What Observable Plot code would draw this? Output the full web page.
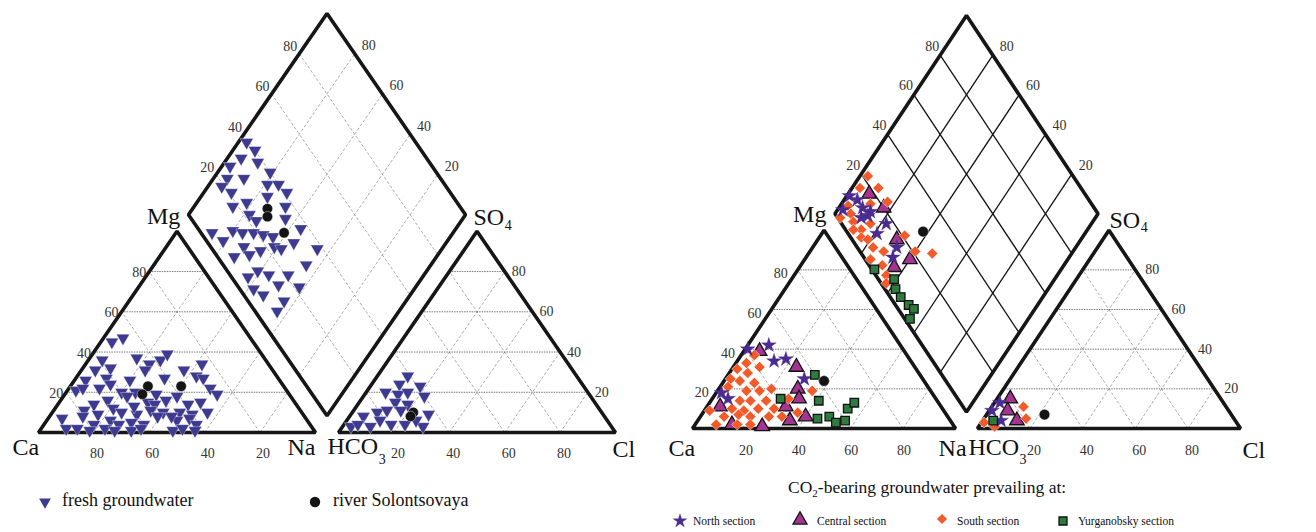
<!DOCTYPE html>
<html><head><meta charset="utf-8">
<script src="https://cdn.jsdelivr.net/npm/d3@7"></script>
<script src="https://cdn.jsdelivr.net/npm/@observablehq/plot@0.6"></script>
<style>
html,body{margin:0;padding:0;background:#fff;}
#wrap{position:relative;width:1316px;height:532px;overflow:hidden;background:#fff;}
#left,#right{position:absolute;top:0;width:658px;height:470px;}
#left{left:0}#right{left:658px}
#legend{position:absolute;left:0;top:0;}
</style></head><body>
<div id="wrap"><div id="left"></div><div id="right"></div><svg id="legend" width="1316" height="532"></svg></div>
<script>
// ---------- data (percent of meq) ----------
const ticks = [20, 40, 60, 80];
// cations: [Mg, Na+K]   anions: [SO4, Cl]   diamond: [Na+K, SO4+Cl]
const freshCations = [
 [45,4],[47,7],[36,5],[37,17],[34,23],[36,26],[39,27],[32,10],[34,42],
 [31,5],[31,23],[31,37],[28,43],[26,4],[27,11],[26,20],[27,32],[27,46],
 [21,3],[22,5],[22,11],[20,20],[20,25],[19,33],[18,41],[22,51],[19,55],
 [14,13],[16,17],[18,23],[15,32],[14,35],[14,47],[15,51],
 [11,11],[9,17],[12,21],[10,25],[9,31],[11,35],[10,40],[10,46],[9,51],[10,56],
 [7,5],[8,12],[4,18],[6,23],[4,27],[5,31],[4,36],[8,39],[6,47],[7,51],[4,55],
 [2,9],[2,13],[1,18],[2,23],[1,27],[1,33],[2,36],[1,48],[2,51],[1,56],
 [24,14],[13,28],[16,38],[8,44]
];
const freshAnions = [
 [28,11],[24,10],[23,18],[20,7],[19,12],[20,15],[18,22],[15,13],[14,18],[10,9],[11,12],
 [11,17],[9,28],[8,5],[6,12],[3,10],[4,17],[4,22],[3,29],[3,3],[4,5],[6,25]
];
const freshDiamond = [
 [3,39],[8,40],[5,33],[12,38],[3,27],[19,40],[5,23],[11,29],[5,19],[21,36],[25,40],[10,21],
 [30,41],[18,24],[14,18],[24,33],[33,37],[22,22],[26,23],[36,34],[13,4],[19,6],[20,12],[24,15],
 [28,19],[32,22],[36,25],[44,37],[45,31],[55,38],[27,6],[28,12],[32,12],[35,17],[39,23],[42,25],
 [55,30],[37,6],[39,11],[44,14],[51,21],[42,5],[47,7],[50,15],[58,22],[56,13],[56,8]
];
const riverCations = [[23,28],[19,28],[23,40]];
const riverAnions = [[10,22],[8,22]];
const riverDiamond = [[27,30],[29,28],[39,30]];

const northCations = [[40,1],[42,8],[34,14],[35,18],[25,30],[18,2],[15,6]];
const northAnions = [[13,2],[9,1],[4,7]];
const northDiamond = [[1,10],[5,12],[2,4],[9,12],[13,14],[11,9],[22,17],[21,11],[32,15],[33,11],[13,12]];
const centralCations = [[39,6],[31,24],[20,30],[15,33],[11,30],[11,5],[2,14],[1,26],[4,35],[6,40]];
const centralAnions = [[15,5],[9,7],[4,13]];
const centralDiamond = [[8,18],[17,20],[30,17],[40,17],[36,9]];
const southCations = [
 [37,5],[33,4],[30,2],[28,7],[31,10],[25,2],[24,6],[23,12],[20,20],[21,3],[19,11],[19,16],
 [14,21],[14,11],[14,15],[10,10],[9,15],[10,20],[10,26],[15,29],[19,36],[8,36],[6,31],[6,26],
 [6,19],[7,14],[6,9],[2,8],[2,16],[2,21],[9,2]
];
const southAnions = [[11,12],[5,16],[3,1],[1,6]];
const southDiamond = [
 [3,22],[3,16],[10,23],[17,23],[11,16],[3,7],[6,6],[3,1],[9,5],[16,11],[14,6],[11,3],
 [16,4],[19,6],[32,21],[23,6],[28,9],[40,21],[47,27],[25,2],[31,5],[35,4],[37,2]
];
const yurgCations = [[27,33],[15,26],[14,41],[5,45],[6,49],[3,53],[4,56],[10,54],[13,55]];
const yurgAnions = [[4,4]];
const yurgDiamond = [[29,1],[39,6],[42,4],[46,4],[51,5],[54,6],[55,2]];
const river2Cations = [[24,38]];
const river2Anions = [[7,22]];
const river2Diamond = [[38,29]];

// ---------- Piper geometry ----------
const G = 0.083, S3 = Math.sqrt(3) / 2, HMAX = S3 * (2 + G);
const cat = ([mg, na]) => [na / 100 + mg / 200, S3 * mg / 100];
const an = ([so4, cl]) => [1 + G + cl / 100 + so4 / 200, S3 * so4 / 100];
const dia = ([na, sc]) => [(na / 100 + 1 + G + sc / 100) / 2, S3 * (1 + G + sc / 100 - na / 100)];

const invTriangle = {
  draw(ctx, size) {
    const k = Math.sqrt(size / (3 * Math.sqrt(3)));
    ctx.moveTo(0, 2 * k);
    ctx.lineTo(Math.sqrt(3) * k, -k);
    ctx.lineTo(-Math.sqrt(3) * k, -k);
    ctx.closePath();
  }
};

const FONT = "Liberation Serif, Times New Roman, serif";
const mctx = document.createElement("canvas").getContext("2d");
function textW(s, size) { mctx.font = `${size}px "Liberation Serif", serif`; return mctx.measureText(s).width; }

const COL = {fresh: "#3d3a8f", north: "#4a2b90", central: "#a3348f", south: "#f15a29", yurg: "#2e7b3f", dot: "#141414"};

function gridSegs() {
  const tri = [], hor = [], dmd = [];
  for (const t of ticks) {
    hor.push([cat([t, 0]), cat([t, 100 - t])]);
    tri.push([cat([0, t]), cat([100 - t, t])]);
    tri.push([cat([0, 100 - t]), cat([100 - t, 0])]);
    hor.push([an([t, 0]), an([t, 100 - t])]);
    tri.push([an([0, t]), an([100 - t, t])]);
    tri.push([an([0, 100 - t]), an([100 - t, 0])]);
    dmd.push([dia([t, 0]), dia([t, 100])]);
    dmd.push([dia([0, t]), dia([100, t])]);
  }
  return {tri, hor, dmd};
}

function diagram(el, o) {
  const segs = gridSegs();
  const outl = [
    ...[cat([0, 0]), cat([0, 100]), cat([100, 0])].map(p => ({k: "c", p})),
    ...[an([0, 0]), an([0, 100]), an([100, 0])].map(p => ({k: "a", p})),
    ...[dia([0, 0]), dia([0, 100]), dia([100, 100]), dia([100, 0])].map(p => ({k: "d", p}))
  ];
  const X = d => d.p[0], Y = d => d.p[1];
  const lnk = (data, st) => Plot.link(data, {x1: d => d[0][0], y1: d => d[0][1], x2: d => d[1][0], y2: d => d[1][1], ...st});
  const T = (data, opts) => Plot.text(data, {x: X, y: Y, text: "t", fontFamily: FONT, fontSize: 14, fill: "#333", ...opts});
  const marks = [
    lnk(segs.tri, {stroke: "#8a8a8a", strokeWidth: 0.7, strokeDasharray: "3,2"}),
    lnk(segs.hor, {stroke: "#555", strokeWidth: 0.8, strokeDasharray: "1.5,1"}),
    lnk(segs.dmd, o.diaGrid),
    Plot.line(outl, {x: X, y: Y, z: "k", curve: "linear-closed", stroke: "#161616", strokeWidth: 3.6, strokeLinejoin: "miter"}),
    T(ticks.map(t => ({p: cat([t, 0]), t})), {textAnchor: "end", dx: o.catLeft[0], dy: o.catLeft[1]}),
    T(ticks.map(t => ({p: cat([0, o.bottomNa ? t : 100 - t]), t})), {dx: o.bottom[0], dy: o.bottom[1]}),
    T(ticks.map(t => ({p: an([t, 100 - t]), t})), {textAnchor: "start", dx: o.anRight[0], dy: o.anRight[1]}),
    T(ticks.map(t => ({p: an([0, t]), t})), {dx: o.bottom2[0], dy: o.bottom2[1]}),
    T(ticks.map(t => ({p: dia([0, t]), t})), {textAnchor: "end", dx: o.dUL[0], dy: o.dUL[1]}),
    T(ticks.map(t => ({p: dia([t, 100]), t: 100 - t})), {textAnchor: "start", dx: o.dUR[0], dy: o.dUR[1]})
  ];
  for (const s of o.series) {
    const st = {x: d => d[0], y: d => d[1], symbol: s.symbol, r: s.r, fill: s.fill, stroke: s.stroke, strokeWidth: s.sw};
    marks.push(Plot.dot(s.cat.map(cat), st), Plot.dot(s.an.map(an), st), Plot.dot(s.dia.map(dia), st));
  }
  for (const v of o.vertex) {
    marks.push(Plot.text([{p: v.p, t: v.t}], {x: X, y: Y, text: "t", textAnchor: "start", dx: v.dx, dy: v.dy, fontFamily: FONT, fontSize: 24, fill: "#111"}));
    if (v.sub) marks.push(Plot.text([{p: v.p, t: v.sub}], {x: X, y: Y, text: "t", textAnchor: "start", dx: v.dx + textW(v.t, 24) + 0.5, dy: v.dy + v.sdy, fontFamily: FONT, fontSize: 14, fill: "#111"}));
  }
  const chart = Plot.plot({
    width: 658, height: 470,
    x: {domain: [0, 2 + G], range: o.xr, axis: null},
    y: {domain: [0, HMAX], range: o.yr, axis: null},
    style: {background: "transparent", overflow: "visible"},
    marks
  });
  el.appendChild(chart);
}

const ORIGIN = {ca: cat([0, 0]), na: cat([0, 100]), mg: cat([100, 0]), hco3: an([0, 0]), cl: an([0, 100]), so4: an([100, 0])};

diagram(document.getElementById("left"), {
  xr: [38, 615], yr: [432, 13], bottomNa: false,
  diaGrid: {stroke: "#8a8a8a", strokeWidth: 0.7, strokeDasharray: "3,2"},
  catLeft: [-3, 1], bottom: [3, 21], anRight: [7, 0], bottom2: [4, 21], dUL: [-2, -7], dUR: [7, -8],
  series: [
    {cat: freshCations, an: freshAnions, dia: freshDiamond, symbol: invTriangle, r: 4.9, fill: COL.fresh, stroke: "#fff", sw: 0.35},
    {cat: riverCations, an: riverAnions, dia: riverDiamond, symbol: "circle", r: 5.2, fill: COL.dot, stroke: "#fff", sw: 0.4}
  ],
  vertex: [
    {p: ORIGIN.ca, t: "Ca", dx: -26, dy: 15},
    {p: ORIGIN.na, t: "Na", dx: -28, dy: 15},
    {p: ORIGIN.hco3, t: "HCO", sub: "3", sdy: 13, dx: -11, dy: 14},
    {p: ORIGIN.cl, t: "Cl", dx: -3, dy: 17},
    {p: ORIGIN.mg, t: "Mg", dx: -30, dy: -15},
    {p: ORIGIN.so4, t: "SO", sub: "4", sdy: 8, dx: -3.5, dy: -14}
  ]
});

diagram(document.getElementById("right"), {
  xr: [34, 582], yr: [428, 15], bottomNa: true,
  diaGrid: {stroke: "#111", strokeWidth: 1.3},
  catLeft: [-10, 4], bottom: [1, 22], anRight: [10, 0], bottom2: [4, 22], dUL: [-1, -9], dUR: [7, -9],
  series: [
    {cat: centralCations, an: centralAnions, dia: centralDiamond, symbol: "triangle", r: 5.4, fill: COL.central, stroke: "#111", sw: 1.3},
    {cat: southCations, an: southAnions, dia: southDiamond, symbol: "diamond2", r: 5, fill: COL.south, stroke: "#fff", sw: 0.5},
    {cat: northCations, an: northAnions, dia: northDiamond, symbol: "star", r: 4.7, fill: COL.north, stroke: COL.north, sw: 0.3},
    {cat: yurgCations, an: yurgAnions, dia: yurgDiamond, symbol: "square", r: 4.8, fill: COL.yurg, stroke: "#111", sw: 1.3},
    {cat: river2Cations, an: river2Anions, dia: river2Diamond, symbol: "circle", r: 5.3, fill: COL.dot, stroke: "#fff", sw: 0.4}
  ],
  vertex: [
    {p: ORIGIN.ca, t: "Ca", dx: -24, dy: 20},
    {p: ORIGIN.na, t: "Na", dx: -17, dy: 20},
    {p: ORIGIN.hco3, t: "HCO", sub: "3", sdy: 12, dx: -9, dy: 19},
    {p: ORIGIN.cl, t: "Cl", dx: 2, dy: 22},
    {p: ORIGIN.mg, t: "Mg", dx: -31, dy: -16},
    {p: ORIGIN.so4, t: "SO", sub: "4", sdy: 7, dx: 0.5, dy: -10}
  ]
});

// ---------- legends ----------
const lg = d3.select("#legend").attr("font-family", FONT).attr("fill", "#111");
const sym = (type, size) => d3.symbol(type, size)();
lg.append("path").attr("d", sym(invTriangle, 60)).attr("transform", "translate(45,502)").attr("fill", COL.fresh);
lg.append("text").attr("x", 62).attr("y", 506).attr("font-size", 18).text("fresh groundwater");
lg.append("circle").attr("cx", 315).attr("cy", 502).attr("r", 5.2).attr("fill", COL.dot);
lg.append("text").attr("x", 333).attr("y", 506).attr("font-size", 18).text("river Solontsovaya");

const title = lg.append("text").attr("x", 788).attr("y", 493).attr("font-size", 17.5);
title.append("tspan").text("CO");
title.append("tspan").attr("font-size", 11).attr("dy", 4).text("2");
title.append("tspan").attr("dy", -4).text("-bearing groundwater prevailing at:");

const items = [
  {x: 680, y: 521, type: d3.symbolStar, size: 60, fill: COL.north, stroke: COL.north, sw: 0.3, tx: 693, label: "North section"},
  {x: 800, y: 520, type: d3.symbolTriangle, size: 85, fill: COL.central, stroke: "#111", sw: 1.3, tx: 817, label: "Central section"},
  {x: 942, y: 519, type: d3.symbolDiamond2, size: 65, fill: COL.south, stroke: "none", sw: 0, tx: 957, label: "South section"},
  {x: 1063, y: 521, type: d3.symbolSquare, size: 64, fill: COL.yurg, stroke: "#111", sw: 1.3, tx: 1078, label: "Yurganobsky section"}
];
for (const it of items) {
  lg.append("path").attr("d", sym(it.type, it.size)).attr("transform", `translate(${it.x},${it.y})`)
    .attr("fill", it.fill).attr("stroke", it.stroke).attr("stroke-width", it.sw);
  lg.append("text").attr("x", it.tx).attr("y", 525).attr("font-size", 11.5).text(it.label);
}
</script>
</body></html>
